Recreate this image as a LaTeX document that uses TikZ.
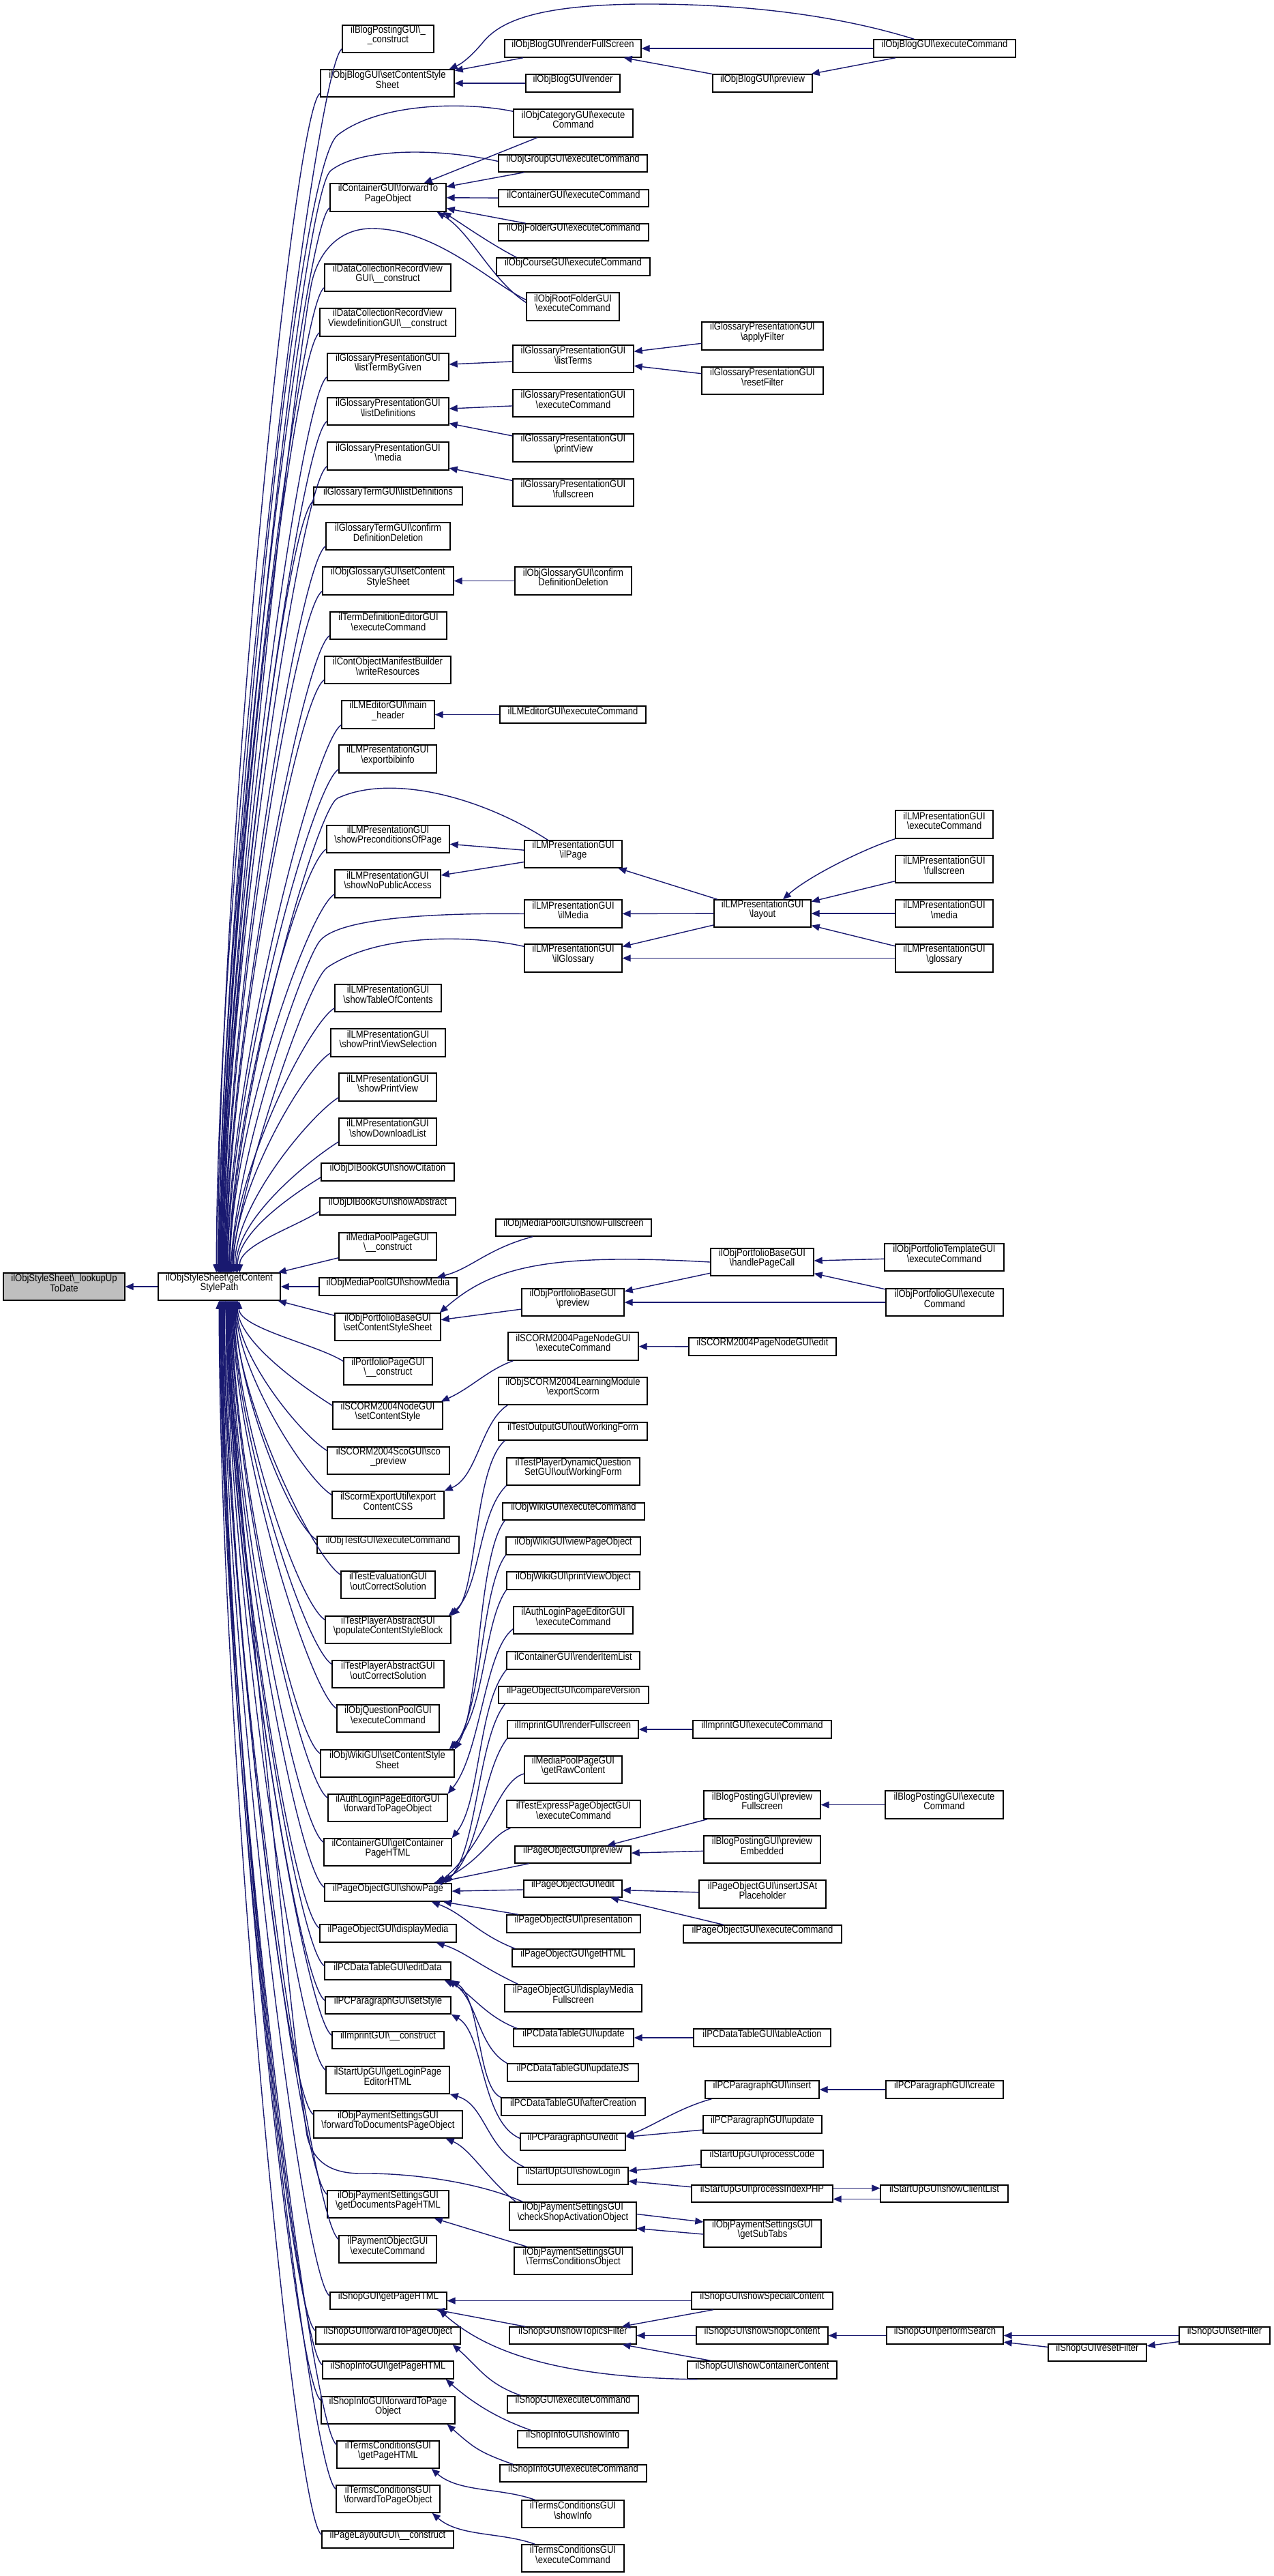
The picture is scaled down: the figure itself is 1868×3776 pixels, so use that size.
\documentclass[tikz,border=0pt]{standalone}
\usepackage{fontspec}
\setmainfont{Liberation Sans}[FakeStretch=0.87]
\usetikzlibrary{arrows.meta,calc,fit}
\newcommand{\bsl}{\textbackslash}
\definecolor{navy}{HTML}{191970}
\tikzset{
 box/.style={draw=black, line width=0.7pt, inner sep=0pt, align=center, font=\fontsize{7.5pt}{7.15pt}\selectfont, fill=white},
 cl/.style={draw=navy, line width=0.7pt, -{Triangle[length=6pt,width=5pt]}},
}
\newcommand{\bx}[6]{\node[box, fit={(#2,#3) (#4,#5)}] (#1) {#6};}
\newcommand{\ga}[3]{\draw[cl] ($(#1.south west)+(0,-6)$) .. controls +(-40,25) and +(0,-#3) .. ($(gcs.north west)+(#2,0)$);}
\newcommand{\gb}[3]{\draw[cl] ($(#1.north west)+(0,6)$) .. controls +(-40,-25) and +(0,#3) .. ($(gcs.south west)+(#2,0)$);}
\newcommand{\su}[2]{\draw[cl] ($(#1.north west)+(20,0)$) .. controls +(-50,-18) and +(40,35) .. ($(#2.south east)+(-12,0)$);}
\begin{document}
\begin{tikzpicture}[x=0.5pt,y=-0.5pt]
\fill[white] (0,0) rectangle (1868,3776);
\useasboundingbox (0,0) rectangle (1868,3776);
% root and main
\node[box, fill=gray!50, fit={(5,1866) (183,1906)}] (root) {ilObjStyleSheet\bsl\_lookupUp\\ToDate};
\bx{gcs}{232}{1866}{411}{1906}{ilObjStyleSheet\bsl getContent\\StylePath}
% column 3 above
\bx{a1}{502}{37}{636}{77}{ilBlogPostingGUI\bsl\_\\\_construct}
\bx{a2}{470}{102}{666}{142}{ilObjBlogGUI\bsl setContentStyle\\Sheet}
\bx{a3}{484}{269}{654}{310}{ilContainerGUI\bsl forwardTo\\PageObject}
\bx{a4}{476}{387}{661}{427}{ilDataCollectionRecordView\\GUI\bsl\_\_construct}
\bx{a5}{469}{452}{668}{493}{ilDataCollectionRecordView\\ViewdefinitionGUI\bsl\_\_construct}
\bx{a6}{480}{518}{658}{558}{ilGlossaryPresentationGUI\\\bsl listTermByGiven}
\bx{a7}{480}{583}{658}{623}{ilGlossaryPresentationGUI\\\bsl listDefinitions}
\bx{a8}{480}{648}{658}{689}{ilGlossaryPresentationGUI\\\bsl media}
\bx{a9}{460}{714}{678}{740}{ilGlossaryTermGUI\bsl listDefinitions}
\bx{a10}{478}{766}{660}{806}{ilGlossaryTermGUI\bsl confirm\\DefinitionDeletion}
\bx{a11}{473}{831}{665}{872}{ilObjGlossaryGUI\bsl setContent\\StyleSheet}
\bx{a12}{484}{897}{655}{937}{ilTermDefinitionEditorGUI\\\bsl executeCommand}
\bx{a13}{476}{962}{661}{1002}{ilContObjectManifestBuilder\\\bsl writeResources}
\bx{a14}{501}{1027}{637}{1068}{ilLMEditorGUI\bsl main\\\_header}
\bx{a15}{497}{1092}{640}{1133}{ilLMPresentationGUI\\\bsl exportbibinfo}
\bx{a16}{479}{1210}{659}{1250}{ilLMPresentationGUI\\\bsl showPreconditionsOfPage}
\bx{a17}{491}{1275}{646}{1316}{ilLMPresentationGUI\\\bsl showNoPublicAccess}
\bx{a18}{491}{1443}{647}{1483}{ilLMPresentationGUI\\\bsl showTableOfContents}
\bx{a19}{485}{1508}{653}{1549}{ilLMPresentationGUI\\\bsl showPrintViewSelection}
\bx{a20}{497}{1573}{640}{1614}{ilLMPresentationGUI\\\bsl showPrintView}
\bx{a21}{497}{1639}{640}{1679}{ilLMPresentationGUI\\\bsl showDownloadList}
\bx{a22}{471}{1705}{666}{1731}{ilObjDlBookGUI\bsl showCitation}
\bx{a23}{469}{1756}{668}{1781}{ilObjDlBookGUI\bsl showAbstract}
\bx{a24}{497}{1807}{640}{1847}{ilMediaPoolPageGUI\\\bsl\_\_construct}
\bx{a25}{468}{1873}{670}{1899}{ilObjMediaPoolGUI\bsl showMedia}
% column 3 below
\bx{b1}{491}{1925}{646}{1965}{ilObjPortfolioBaseGUI\\\bsl setContentStyleSheet}
\bx{b2}{504}{1990}{634}{2030}{ilPortfolioPageGUI\\\bsl\_\_construct}
\bx{b3}{488}{2055}{649}{2095}{ilSCORM2004NodeGUI\\\bsl setContentStyle}
\bx{b4}{480}{2121}{659}{2161}{ilSCORM2004ScoGUI\bsl sco\\\_preview}
\bx{b5}{487}{2186}{651}{2226}{ilScormExportUtil\bsl export\\ContentCSS}
\bx{b6}{465}{2252}{673}{2277}{ilObjTestGUI\bsl executeCommand}
\bx{b7}{500}{2303}{638}{2343}{ilTestEvaluationGUI\\\bsl outCorrectSolution}
\bx{b8}{477}{2369}{661}{2409}{ilTestPlayerAbstractGUI\\\bsl populateContentStyleBlock}
\bx{b9}{487}{2434}{651}{2474}{ilTestPlayerAbstractGUI\\\bsl outCorrectSolution}
\bx{b10}{494}{2499}{644}{2539}{ilObjQuestionPoolGUI\\\bsl executeCommand}
\bx{b11}{470}{2565}{666}{2605}{ilObjWikiGUI\bsl setContentStyle\\Sheet}
\bx{b12}{481}{2630}{656}{2670}{ilAuthLoginPageEditorGUI\\\bsl forwardToPageObject}
\bx{b13}{475}{2695}{662}{2735}{ilContainerGUI\bsl getContainer\\PageHTML}
\bx{b14}{476}{2761}{662}{2787}{ilPageObjectGUI\bsl showPage}
\bx{b15}{469}{2821}{669}{2847}{ilPageObjectGUI\bsl displayMedia}
\bx{b16}{476}{2876}{661}{2902}{ilPCDataTableGUI\bsl editData}
\bx{b17}{477}{2927}{661}{2952}{ilPCParagraphGUI\bsl setStyle}
\bx{b18}{487}{2978}{651}{3003}{ilImprintGUI\bsl\_\_construct}
\bx{b19}{478}{3029}{659}{3069}{ilStartUpGUI\bsl getLoginPage\\EditorHTML}
\bx{b20}{460}{3094}{678}{3134}{ilObjPaymentSettingsGUI\\\bsl forwardToDocumentsPageObject}
\bx{b21}{480}{3211}{658}{3251}{ilObjPaymentSettingsGUI\\\bsl getDocumentsPageHTML}
\bx{b22}{497}{3277}{640}{3317}{ilPaymentObjectGUI\\\bsl executeCommand}
\bx{b23}{484}{3360}{655}{3385}{ilShopGUI\bsl getPageHTML}
\bx{b24}{463}{3411}{675}{3436}{ilShopGUI\bsl forwardToPageObject}
\bx{b25}{473}{3461}{665}{3487}{ilShopInfoGUI\bsl getPageHTML}
\bx{b26}{471}{3513}{667}{3553}{ilShopInfoGUI\bsl forwardToPage\\Object}
\bx{b27}{494}{3578}{644}{3618}{ilTermsConditionsGUI\\\bsl getPageHTML}
\bx{b28}{493}{3643}{645}{3683}{ilTermsConditionsGUI\\\bsl forwardToPageObject}
\bx{b29}{472}{3710}{665}{3735}{ilPageLayoutGUI\bsl\_\_construct}
% column 4
\bx{d1}{740}{58}{940}{84}{ilObjBlogGUI\bsl renderFullScreen}
\bx{d2}{771}{109}{909}{135}{ilObjBlogGUI\bsl render}
\bx{d3}{753}{160}{928}{201}{ilObjCategoryGUI\bsl execute\\Command}
\bx{d4}{731}{227}{949}{252}{ilObjGroupGUI\bsl executeCommand}
\bx{d5}{731}{278}{951}{303}{ilContainerGUI\bsl executeCommand}
\bx{d6}{731}{328}{951}{353}{ilObjFolderGUI\bsl executeCommand}
\bx{d7}{728}{378}{953}{404}{ilObjCourseGUI\bsl executeCommand}
\bx{d8}{772}{429}{908}{470}{ilObjRootFolderGUI\\\bsl executeCommand}
\bx{d9}{752}{506}{929}{546}{ilGlossaryPresentationGUI\\\bsl listTerms}
\bx{d10}{752}{571}{929}{611}{ilGlossaryPresentationGUI\\\bsl executeCommand}
\bx{d11}{752}{636}{929}{677}{ilGlossaryPresentationGUI\\\bsl printView}
\bx{d12}{752}{702}{929}{742}{ilGlossaryPresentationGUI\\\bsl fullscreen}
\bx{d13}{755}{831}{926}{872}{ilObjGlossaryGUI\bsl confirm\\DefinitionDeletion}
\bx{d14}{733}{1035}{947}{1060}{ilLMEditorGUI\bsl executeCommand}
\bx{d15}{769}{1232}{912}{1272}{ilLMPresentationGUI\\\bsl ilPage}
\bx{d16}{769}{1319}{912}{1360}{ilLMPresentationGUI\\\bsl ilMedia}
\bx{d17}{769}{1384}{912}{1425}{ilLMPresentationGUI\\\bsl ilGlossary}
\bx{d18}{727}{1787}{955}{1812}{ilObjMediaPoolGUI\bsl showFullscreen}
\bx{d19}{765}{1889}{915}{1929}{ilObjPortfolioBaseGUI\\\bsl preview}
\bx{d20}{745}{1953}{936}{1994}{ilSCORM2004PageNodeGUI\\\bsl executeCommand}
\bx{d21}{731}{2019}{949}{2059}{ilObjSCORM2004LearningModule\\\bsl exportScorm}
\bx{d22}{731}{2085}{949}{2111}{ilTestOutputGUI\bsl outWorkingForm}
\bx{d23}{743}{2137}{938}{2177}{ilTestPlayerDynamicQuestion\\SetGUI\bsl outWorkingForm}
\bx{d24}{737}{2203}{945}{2228}{ilObjWikiGUI\bsl executeCommand}
\bx{d25}{742}{2253}{939}{2279}{ilObjWikiGUI\bsl viewPageObject}
\bx{d26}{743}{2304}{938}{2330}{ilObjWikiGUI\bsl printViewObject}
\bx{d27}{753}{2355}{928}{2395}{ilAuthLoginPageEditorGUI\\\bsl executeCommand}
\bx{d28}{743}{2421}{938}{2447}{ilContainerGUI\bsl renderItemList}
\bx{d29}{731}{2472}{951}{2497}{ilPageObjectGUI\bsl compareVersion}
\bx{d30}{744}{2522}{936}{2548}{ilImprintGUI\bsl renderFullscreen}
\bx{d31}{769}{2574}{912}{2614}{ilMediaPoolPageGUI\\\bsl getRawContent}
\bx{d32}{743}{2639}{939}{2679}{ilTestExpressPageObjectGUI\\\bsl executeCommand}
\bx{d33}{755}{2706}{925}{2731}{ilPageObjectGUI\bsl preview}
\bx{d34}{768}{2756}{912}{2781}{ilPageObjectGUI\bsl edit}
\bx{d35}{743}{2807}{939}{2833}{ilPageObjectGUI\bsl presentation}
\bx{d36}{751}{2857}{930}{2883}{ilPageObjectGUI\bsl getHTML}
\bx{d37}{740}{2909}{941}{2949}{ilPageObjectGUI\bsl displayMedia\\Fullscreen}
\bx{d38}{753}{2974}{929}{3000}{ilPCDataTableGUI\bsl update}
\bx{d39}{744}{3025}{936}{3051}{ilPCDataTableGUI\bsl updateJS}
\bx{d40}{735}{3075}{946}{3101}{ilPCDataTableGUI\bsl afterCreation}
\bx{d41}{763}{3127}{917}{3152}{ilPCParagraphGUI\bsl edit}
\bx{d42}{759}{3177}{921}{3202}{ilStartUpGUI\bsl showLogin}
\bx{d43}{747}{3228}{933}{3269}{ilObjPaymentSettingsGUI\\\bsl checkShopActivationObject}
\bx{d44}{754}{3294}{927}{3334}{ilObjPaymentSettingsGUI\\\bsl TermsConditionsObject}
\bx{d45}{747}{3411}{933}{3436}{ilShopGUI\bsl showTopicsFilter}
\bx{d46}{744}{3512}{936}{3537}{ilShopGUI\bsl executeCommand}
\bx{d47}{759}{3563}{921}{3588}{ilShopInfoGUI\bsl showInfo}
\bx{d48}{733}{3613}{948}{3638}{ilShopInfoGUI\bsl executeCommand}
\bx{d49}{765}{3665}{915}{3705}{ilTermsConditionsGUI\\\bsl showInfo}
\bx{d50}{765}{3730}{915}{3770}{ilTermsConditionsGUI\\\bsl executeCommand}
% column 5
\bx{e1}{1045}{109}{1191}{135}{ilObjBlogGUI\bsl preview}
\bx{e2}{1029}{472}{1207}{513}{ilGlossaryPresentationGUI\\\bsl applyFilter}
\bx{e3}{1029}{538}{1207}{578}{ilGlossaryPresentationGUI\\\bsl resetFilter}
\bx{e4}{1047}{1319}{1189}{1359}{ilLMPresentationGUI\\\bsl layout}
\bx{e5}{1042}{1830}{1193}{1870}{ilObjPortfolioBaseGUI\\\bsl handlePageCall}
\bx{e6}{1010}{1961}{1226}{1987}{ilSCORM2004PageNodeGUI\bsl edit}
\bx{e7}{1016}{2522}{1219}{2548}{ilImprintGUI\bsl executeCommand}
\bx{e8}{1032}{2625}{1203}{2666}{ilBlogPostingGUI\bsl preview\\Fullscreen}
\bx{e9}{1032}{2691}{1203}{2731}{ilBlogPostingGUI\bsl preview\\Embedded}
\bx{e10}{1025}{2756}{1211}{2797}{ilPageObjectGUI\bsl insertJSAt\\Placeholder}
\bx{e11}{1002}{2822}{1234}{2848}{ilPageObjectGUI\bsl executeCommand}
\bx{e12}{1017}{2974}{1218}{3000}{ilPCDataTableGUI\bsl tableAction}
\bx{e13}{1034}{3050}{1201}{3076}{ilPCParagraphGUI\bsl insert}
\bx{e14}{1031}{3101}{1205}{3127}{ilPCParagraphGUI\bsl update}
\bx{e15}{1028}{3152}{1207}{3177}{ilStartUpGUI\bsl processCode}
\bx{e16}{1014}{3203}{1221}{3228}{ilStartUpGUI\bsl processIndexPHP}
\bx{e17}{1032}{3254}{1204}{3294}{ilObjPaymentSettingsGUI\\\bsl getSubTabs}
\bx{e18}{1014}{3360}{1221}{3385}{ilShopGUI\bsl showSpecialContent}
\bx{e19}{1021}{3411}{1214}{3436}{ilShopGUI\bsl showShopContent}
\bx{e20}{1008}{3461}{1227}{3487}{ilShopGUI\bsl showContainerContent}
% column 6/7
\bx{f1}{1281}{58}{1489}{84}{ilObjBlogGUI\bsl executeCommand}
\bx{f2}{1313}{1188}{1456}{1229}{ilLMPresentationGUI\\\bsl executeCommand}
\bx{f3}{1313}{1254}{1456}{1294}{ilLMPresentationGUI\\\bsl fullscreen}
\bx{f4}{1313}{1319}{1456}{1359}{ilLMPresentationGUI\\\bsl media}
\bx{f5}{1313}{1384}{1456}{1425}{ilLMPresentationGUI\\\bsl glossary}
\bx{f6}{1297}{1823}{1472}{1863}{ilObjPortfolioTemplateGUI\\\bsl executeCommand}
\bx{f7}{1299}{1889}{1471}{1929}{ilObjPortfolioGUI\bsl execute\\Command}
\bx{f8}{1298}{2625}{1471}{2666}{ilBlogPostingGUI\bsl execute\\Command}
\bx{f9}{1299}{3050}{1471}{3076}{ilPCParagraphGUI\bsl create}
\bx{f10}{1291}{3203}{1478}{3228}{ilStartUpGUI\bsl showClientList}
\bx{f11}{1300}{3411}{1471}{3436}{ilShopGUI\bsl performSearch}
\bx{g1}{1537}{3436}{1681}{3461}{ilShopGUI\bsl resetFilter}
\bx{g2}{1729}{3411}{1862}{3436}{ilShopGUI\bsl setFilter}
% ---------- edges ----------
\draw[cl] (gcs.west) -- (root.east);
\ga{a1}{86}{600}
\ga{a2}{88}{580}
\ga{a3}{90}{520}
\ga{a4}{92}{480}
\ga{a5}{93}{460}
\ga{a6}{94}{440}
\ga{a7}{95}{420}
\ga{a8}{96}{400}
\ga{a9}{97}{380}
\ga{a10}{98}{360}
\ga{a11}{99}{340}
\ga{a12}{100}{320}
\ga{a13}{101}{300}
\ga{a14}{102}{280}
\ga{a15}{103}{260}
\ga{a16}{105}{220}
\ga{a17}{106}{200}
\ga{a18}{109}{140}
\ga{a19}{111}{120}
\ga{a20}{113}{100}
\ga{a21}{115}{80}
\ga{a22}{117}{60}
\ga{a23}{120}{40}
\draw[cl] ($(a24.south west)+(0,-4)$) -- ($(gcs.north east)+(-4,0)$);
\draw[cl] (a25.west) -- (gcs.east);
\draw[cl] ($(b1.north west)+(0,4)$) -- ($(gcs.south east)+(-4,0)$);
\gb{b2}{119}{40}
\gb{b3}{117}{60}
\gb{b4}{116}{80}
\gb{b5}{115}{100}
\gb{b6}{114}{125}
\gb{b7}{113}{140}
\gb{b8}{112}{165}
\gb{b9}{111}{185}
\gb{b10}{110}{210}
\gb{b11}{109}{230}
\gb{b12}{108}{255}
\gb{b13}{107}{280}
\gb{b14}{106}{300}
\gb{b15}{105}{320}
\gb{b16}{104}{340}
\gb{b17}{103}{360}
\gb{b18}{102}{375}
\gb{b19}{101}{395}
\gb{b20}{100}{420}
\gb{b21}{98}{460}
\gb{b22}{97}{480}
\gb{b23}{96}{510}
\gb{b24}{95}{530}
\gb{b25}{94}{545}
\gb{b26}{93}{565}
\gb{b27}{92}{585}
\gb{b28}{91}{610}
\gb{b29}{90}{630}
% long arcs into getContentStylePath
\draw[cl] ($(d3.north west)+(0,4)$) .. controls (690,150) and (560,148) .. (495,198) .. controls (430,250) and (322,1400) .. ($(gcs.north west)+(89,0)$);
\draw[cl] ($(d4.west)+(0,-3)$) .. controls (650,218) and (530,215) .. (485,250) .. controls (440,285) and (324,1400) .. ($(gcs.north west)+(91,0)$);
\draw[cl] ($(d8.west)+(0,-10)$) .. controls (720,415) and (640,335) .. (545,335) .. controls (500,335) and (470,365) .. (458,410) .. controls (440,480) and (326,1450) .. ($(gcs.north west)+(92,0)$);
\draw[cl] ($(d15.north west)+(35,0)$) .. controls (700,1165) and (570,1135) .. (495,1170) .. controls (465,1184) and (345,1600) .. ($(gcs.north west)+(104,0)$);
\draw[cl] (d16.west) .. controls (640,1338) and (500,1345) .. (470,1378) .. controls (445,1405) and (345,1700) .. ($(gcs.north west)+(107,0)$);
\draw[cl] ($(d17.north west)+(0,4)$) .. controls (700,1372) and (560,1365) .. (480,1418) .. controls (450,1438) and (350,1740) .. ($(gcs.north west)+(108,0)$);
\draw[cl] ($(d43.north west)+(20,0)$) .. controls (700,3198) and (600,3185) .. (530,3186) .. controls (480,3186) and (458,3165) .. (450,3130) .. controls (430,3000) and (340,2100) .. ($(gcs.south west)+(99,0)$);
% blog
\draw[cl] (f1.west) -- (d1.east);
\draw[cl] (f1) -- (e1);
\draw[cl] (e1) -- (d1);
\draw[cl] (d1) -- (a2);
\draw[cl] (d2) -- (a2);
\draw[cl] ($(f1.north west)+(60,0)$) .. controls (1220,20) and (1080,5) .. (934,6) .. controls (790,8) and (735,30) .. (709,61) .. controls (695,78) and (680,92) .. ($(a2.north east)+(-8,0)$);
% container
\draw[cl] (d3) -- (a3);
\draw[cl] (d4) -- (a3);
\draw[cl] (d5) -- (a3);
\draw[cl] (d6) -- (a3);
\draw[cl] ($(d7.north west)+(30,0)$) .. controls (720,358) and (680,330) .. ($(a3.south east)+(-5,0)$);
\draw[cl] ($(d8.west)+(0,-6)$) .. controls (720,410) and (690,340) .. ($(a3.south east)+(-14,0)$);
% glossary
\draw[cl] (d9) -- (a6);
\draw[cl] (e2) -- (d9);
\draw[cl] (e3) -- (d9);
\draw[cl] (d10) -- (a7);
\draw[cl] (d11) -- (a7);
\draw[cl] (d12) -- (a8);
\draw[cl] (d13) -- (a11);
\draw[cl] (d14) -- (a14);
% LM presentation
\draw[cl] (d15) -- (a16);
\draw[cl] (d15) -- (a17);
\draw[cl] (e4) -- (d15);
\draw[cl] (e4) -- (d16);
\draw[cl] (e4) -- (d17);
\draw[cl] (f5.west) -- (d17.east);
\draw[cl] (f2.south west) .. controls (1265,1245) and (1185,1285) .. ($(e4.north)+(30,0)$);
\draw[cl] (f3) -- (e4);
\draw[cl] (f4) -- (e4);
\draw[cl] (f5) -- (e4);
% media pool / portfolio
\draw[cl] ($(d18.south west)+(55,0)$) .. controls (715,1830) and (690,1860) .. ($(a25.north east)+(-30,0)$);
\draw[cl] (e5.west) .. controls (800,1836) and (720,1858) .. ($(b1.north east)+(-2,0)$);
\draw[cl] (d19) -- (b1);
\draw[cl] (e5) -- (d19);
\draw[cl] (f7.west) -- (d19.east);
\draw[cl] (f6) -- (e5);
\draw[cl] (f7) -- (e5);
% scorm / test / wiki
\draw[cl] (e6) -- (d20);
\draw[cl] ($(d20.south west)+(8,0)$) .. controls (715,2008) and (690,2035) .. ($(b3.north east)+(-3,0)$);
\draw[cl] ($(d21.south west)+(14,0)$) .. controls (705,2085) and (700,2165) .. (b5.north east);
\draw[cl] ($(d22.south west)+(10,0)$) .. controls (695,2150) and (700,2330) .. (b8.north east);
\draw[cl] (d23.south west) .. controls (700,2220) and (705,2330) .. ($(b8.north east)+(-4,0)$);
\draw[cl] ($(d24.south west)+(4,0)$) .. controls (700,2280) and (705,2500) .. (b11.north east);
\draw[cl] (d25.south west) .. controls (705,2330) and (708,2500) .. ($(b11.north east)+(-4,0)$);
\draw[cl] (d26.south west) .. controls (708,2380) and (712,2510) .. ($(b11.north east)+(-8,0)$);
\draw[cl] ($(d27.south west)+(0,-8)$) .. controls (710,2420) and (705,2570) .. (b12.north east);
\draw[cl] (d28.south west) .. controls (700,2500) and (705,2640) .. (b13.north east);
% page object
\draw[cl] ($(d29.south west)+(10,0)$) .. controls (700,2550) and (700,2710) .. ($(b14.north east)+(-10,0)$);
\draw[cl] (d30.south west) .. controls (705,2600) and (705,2720) .. ($(b14.north east)+(-15,0)$);
\draw[cl] (e7) -- (d30);
\draw[cl] ($(d31.west)+(0,6)$) .. controls (730,2610) and (715,2700) .. ($(b14.north east)+(-20,0)$);
\draw[cl] ($(d32.south west)+(6,0)$) .. controls (720,2690) and (705,2730) .. ($(b14.north east)+(-25,0)$);
\draw[cl] (d33) -- (b14);
\draw[cl] (d34) -- (b14);
\draw[cl] (d35) -- (b14);
\draw[cl] ($(d36.north west)+(5,0)$) .. controls (700,2835) and (680,2805) .. ($(b14.south east)+(-30,0)$);
\draw[cl] (f8) -- (e8);
\draw[cl] (e8) -- (d33);
\draw[cl] (e9) -- (d33);
\draw[cl] (e10) -- (d34);
\draw[cl] (e11) -- (d34);
\draw[cl] ($(d37.north west)+(20,0)$) .. controls (700,2880) and (680,2860) .. ($(b15.south east)+(-30,0)$);
% data table / paragraph
\draw[cl] ($(d38.north west)+(6,0)$) .. controls (710,2955) and (690,2920) .. ($(b16.south east)+(-10,0)$);
\draw[cl] (d39.north west) .. controls (700,3000) and (700,2930) .. ($(b16.south east)+(-5,0)$);
\draw[cl] (d40.north west) .. controls (700,3060) and (705,2930) .. (b16.south east);
\draw[cl] (e12) -- (d38);
\draw[cl] ($(d41.west)+(0,-5)$) .. controls (705,3110) and (710,2980) .. (b17.south east);
\draw[cl] (f9) -- (e13);
\draw[cl] ($(e13.south west)+(10,0)$) .. controls (995,3090) and (960,3115) .. ($(d41.north east)+(0,5)$);
\draw[cl] (e14) -- (d41);
% startup / payment
\draw[cl] ($(d42.north west)+(10,0)$) .. controls (712,3150) and (712,3085) .. (b19.south east);
\draw[cl] (e15) -- (d42);
\draw[cl] (e16) -- (d42);
\draw[cl] ($(e16.east)+(0,-8)$) -- ($(f10.west)+(0,-8)$);
\draw[cl] ($(f10.west)+(0,8)$) -- ($(e16.east)+(0,8)$);
\draw[cl] ($(d43.north west)+(10,0)$) .. controls (715,3195) and (690,3150) .. ($(b20.south east)+(-25,0)$);
\draw[cl] ($(d43.east)+(0,-3)$) -- ($(e17.west)+(0,-17)$);
\draw[cl] ($(e17.west)+(0,1)$) -- ($(d43.east)+(0,18)$);
\draw[cl] (d44) -- (b21);
% shop
\draw[cl] (e18.west) -- (b23.east);
\draw[cl] (d45) -- (b23);
\draw[cl] ($(e20.south west)+(15,0)$) .. controls (800,3485) and (705,3440) .. ($(b23.south east)+(-12,0)$);
\draw[cl] (e18) -- (d45);
\draw[cl] (e19) -- (d45);
\draw[cl] (e20) -- (d45);
\draw[cl] (f11) -- (e19);
\draw[cl] (g2.west) -- (f11.east);
\draw[cl] (g1) -- (f11);
\draw[cl] (g2) -- (g1);
\su{d46}{b24}
\su{d47}{b25}
\su{d48}{b26}
\su{d49}{b27}
\su{d50}{b28}
\end{tikzpicture}
\end{document}
